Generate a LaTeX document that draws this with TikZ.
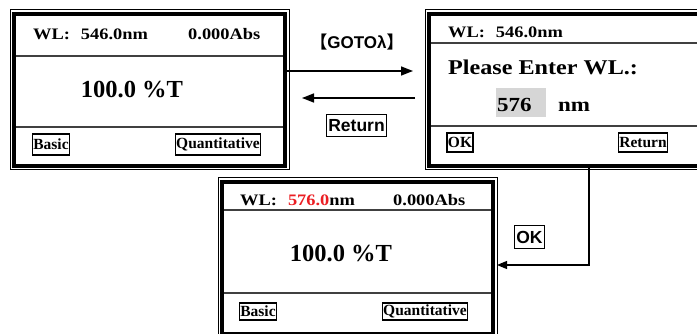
\documentclass[tikz,border=0pt]{standalone}
\usepackage{fontspec}
\setmainfont{Liberation Serif}
\newfontfamily\scrwide[FakeStretch=1.15]{Liberation Serif}
\newfontfamily\lblfont{Liberation Sans}
\newfontfamily\cjkfont{Noto Sans CJK SC}
\usepackage{xcolor}
\usetikzlibrary{arrows.meta}
\definecolor{wlred}{RGB}{235, 30, 35}
\definecolor{entrygray}{RGB}{214, 214, 214}

\begin{document}
\begin{tikzpicture}[x=1pt, y=-1pt,
    screen/.style={draw, line width=4pt, inner sep=0pt, outer sep=0pt, minimum width=271pt, minimum height=152pt},
    hdr/.style={anchor=base west, inner sep=0pt, font=\scrwide\bfseries\fontsize{16}{18}\selectfont},
    big/.style={anchor=base, inner sep=0pt, font=\bfseries\fontsize{24.5}{28}\selectfont},
    ask/.style={anchor=base west, inner sep=0pt, font=\scrwide\bfseries\fontsize{21}{24}\selectfont},
    num/.style={anchor=base west, inner sep=0pt, font=\scrwide\bfseries\fontsize{20}{24}\selectfont},
    btn/.style={draw, line width=1.2pt, inner xsep=1pt, inner ysep=0pt, minimum height=#1, font=\bfseries\fontsize{15.5}{18}\selectfont},
    btn/.default=21pt,
    lbl/.style={inner sep=0pt, font=\lblfont\bfseries\fontsize{17}{19}\selectfont},
    lblbox/.style={draw, line width=1pt, inner xsep=2pt, inner ysep=0pt, minimum height=22pt, font=\lblfont\bfseries\fontsize{17.5}{20}\selectfont},
    sep/.style={line width=1.2pt, black!75},
    arr/.style={line width=1.5pt, -{Triangle[length=12pt,width=9pt]}},
    okarr/.style={line width=1.2pt, -{Triangle[length=10pt,width=8pt]}, shorten >=4pt}]
    \useasboundingbox (0,0) rectangle (697,334);
    \clip (0,0) rectangle (697,334);

    % Arrows between the screens
    \coordinate (goto end) at (413,71);
    \draw[arr] (285,71) -- (goto end);
    \coordinate (ret start) at (415,98);
    \coordinate (ret end) at (302,98);
    \draw[arr] (ret start) -- (ret end);
    \node[lbl] (goto) at (357,42) {{\cjkfont\bfseries 【}GOTOλ{\cjkfont\bfseries 】}};
    \node[lblbox] (retlbl) at (356.5,126) {Return};

    % Screens
    \node[screen] (scr1) at (149.5,90) {};
    \node[screen] (scr2) at (564.5,90) {};
    \node[screen] (scr3) at (357.5,258) {};
    \foreach \s in {scr1,scr2,scr3}
        \draw[line width=1pt] ([shift={(-4,-4)}]\s.north west) rectangle ([shift={(4,4)}]\s.south east);

    % OK path
    \coordinate (ok turn) at (589,265);
    \draw[okarr] (scr2.south -| ok turn) |- (scr3.east |- ok turn);
    \node[lblbox, minimum height=23pt] (oklbl) at (529.5,237.5) {OK};

    % Screen 1
    \draw[sep] (16,56) -- (283,56);
    \draw[sep] (16,127) -- (283,127);
    \node[hdr] (wl1) at (33,40) {WL:\hspace*{11pt}546.0nm};
    \node[hdr] (abs1) at (188,40) {0.000Abs};
    \node[big] (trans1) at (132,98) {100.0 \%T};
    \node[btn] (basic1) at (51,144.5) {Basic};
    \node[btn] (quant1) at (218,144.5) {Quantitative};

    % Screen 2
    \draw[sep] (431,43) -- (697,43);
    \draw[sep] (431,126) -- (697,126);
    \node[hdr] (wl2) at (448,38) {WL:\hspace*{11pt}546.0nm};
    \node[ask] (ask2) at (448,75) {Please Enter WL.:};
    \node[fill=entrygray, inner sep=0pt, minimum width=50pt, minimum height=29pt] (entry2) at (521,102.5) {};
    \node[num] (val2) at (497,112) {576};
    \node[num] (unit2) at (558,112) {nm};
    \node[btn=19pt] (ok2) at (460,142.5) {OK};
    \node[btn=19pt] (ret2) at (643,142.5) {Return};

    % Screen 3
    \draw[sep] (224,210) -- (491,210);
    \draw[sep] (224,293) -- (491,293);
    \node[hdr] (wl3) at (240,205.5) {WL:\hspace*{11pt}\textcolor{wlred}{576.0}nm};
    \node[hdr] (abs3) at (393,205.5) {0.000Abs};
    \node[big] (trans3) at (341,261.5) {100.0 \%T};
    \node[btn=17pt] (basic3) at (258,311.5) {Basic};
    \node[btn=17pt] (quant3) at (425,311.5) {Quantitative};
\end{tikzpicture}
\end{document}
